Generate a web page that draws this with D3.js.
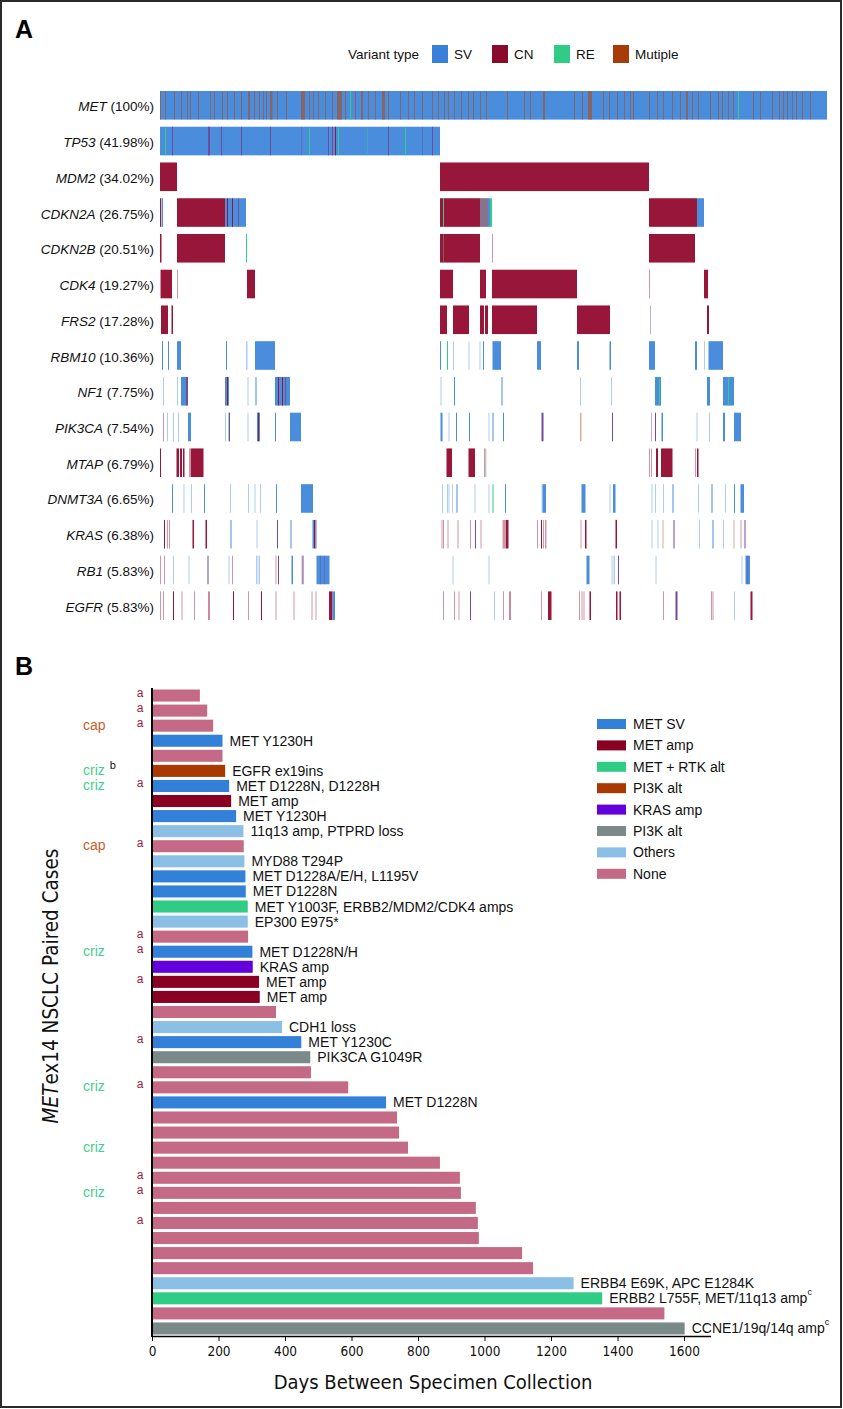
<!DOCTYPE html>
<html><head><meta charset="utf-8">
<script src="https://cdn.jsdelivr.net/npm/d3@7/dist/d3.min.js"></script>
<style>
body{margin:0;background:#fff;}
svg{display:block;}
</style></head>
<body>
<svg id="fig" width="843" height="1409"></svg>
<script>
// ---------------- Panel A data ----------------
const geneNames = ["MET","TP53","MDM2","CDKN2A","CDKN2B","CDK4","FRS2","RBM10","NF1","PIK3CA","MTAP","DNMT3A","KRAS","RB1","EGFR"];
const genePct   = ["100%","41.98%","34.02%","26.75%","20.51%","19.27%","17.28%","10.36%","7.75%","7.54%","6.79%","6.65%","6.38%","5.83%","5.83%"];
const variantTypes = ["SV","CN","RE","MU"];
const variantLabels = ["SV","CN","RE","Mutiple"];
// cohort is sorted; positions are sample-rank bins (0..667). type: SV, CN, RE, MU (multiple), MX (mixed SV+CN);
// lowercase = sparse/faint occurrence
const cohortBins = 667;
const metMultiple = [0,5,14,21,27,30,38,50,54,62,67,74,81,94,99,103,106,117,126,149,153,158,165,172,185,195,208,215,228,240,248,254,262,272,278,284,288,294,301,308,313,320,326,347,364,370,414,422,443,449,457,464,470,473,489,497,503,512,520,532,538,550,558,562,568,573,593,600,612,619,623,627,632,636,642,650];
const metMultipleWide = [[88,90],[110,112.5],[141,145],[177,182],[201,203],[222,225],[383,385],[428,432],[526,528]];
const metRearr = [190,578];
const segTP53 = [[0,280,"SV"],[5,6,"RE"],[12,13,"MX"],[48,50,"MX"],[61,62,"MX"],[81,82,"MX"],[110,111,"MX"],[141,142,"mx"],[149,150,"RE"],[168,169,"MX"],[172,173,"MX"],[175,176,"CN"],[178,179,"RE"],[207,208,"re"],[228,229,"MX"],[245,246,"RE"],[262,263,"mx"],[272,273,"MX"]];
const segMDM2 = [[0,17,"CN"],[280,489,"CN"]];
const segCDKN2A = [[0,1,"CN"],[1.5,3,"SV"],[17,65,"CN"],[65,86,"SV"],[67,68,"CN"],[72,73,"CN"],[78,79,"cn"],[280,320,"CN"],[283,284,"RE"],[320,328,"re"],[320,328,"sv"],[320,328,"cn"],[328,330,"SV"],[330,332,"RE"],[489,537,"CN"],[537,544,"SV"]];
const segCDKN2B = [[0,1.5,"CN"],[17,65,"CN"],[86,87,"RE"],[280,320,"CN"],[283,284,"re"],[332,333,"cn"],[489,535,"CN"]];
const segCDK4 = [[0,1,"cn"],[1,12,"CN"],[17,18,"cn"],[87,95,"CN"],[280,293,"CN"],[320,326,"CN"],[332,417,"CN"],[489,490,"cn"],[544,548,"CN"]];
const segFRS2 = [[1,8,"CN"],[11.5,13,"CN"],[280,287,"CN"],[293,309,"CN"],[320,324,"CN"],[325,328,"CN"],[332,377,"CN"],[417,450,"CN"],[490,491,"mx"],[547,549,"CN"]];
const segRBM10 = [[2,3,"SV"],[8,9,"SV"],[17,21,"SV"],[66,67,"SV"],[86,87.5,"sv"],[95,115,"SV"],[280,281,"SV"],[287,288,"RE"],[293,294,"sv"],[308.5,309.5,"sv"],[319.5,320.5,"sv"],[323,324,"SV"],[332.5,341,"SV"],[377,381,"SV"],[417,419,"SV"],[449.5,451,"SV"],[489,495,"SV"],[535,537,"SV"],[544,545,"sv"],[548.5,563,"SV"]];
const segNF1 = [[3,4,"sv"],[17,18,"sv"],[21,28,"SV"],[26.5,27.5,"CN"],[65,69,"SV"],[67,68,"CN"],[87.5,88.5,"sv"],[95.5,96.5,"SV"],[115,130,"SV"],[118,119,"CN"],[122,123,"CN"],[125,126,"cn"],[280.5,281.5,"sv"],[294,295,"SV"],[341.5,342.5,"SV"],[420,421,"sv"],[451,452,"sv"],[495,501,"SV"],[499,500,"RE"],[547,550,"SV"],[548,549,"sv"],[563,574,"SV"],[568,569,"RE"]];
const segPIK3CA = [[3,4,"cn"],[7,8,"sv"],[13,14,"sv"],[18,19,"sv"],[28,31,"SV"],[65,66,"sv"],[68.5,70,"SV"],[69,70,"cn"],[87.5,88.5,"sv"],[97,100,"SV"],[98,99,"CN"],[115,116,"SV"],[130,141,"SV"],[280.5,282.5,"SV"],[288.5,289.5,"sv"],[296,297,"SV"],[309,310,"SV"],[328.5,329.5,"sv"],[332.5,333.5,"SV"],[343,344,"SV"],[381.5,383.5,"MX"],[420,421.5,"mu"],[452,453,"MX"],[491,492,"mx"],[495,496,"MX"],[501.5,503,"SV"],[536.5,537.5,"sv"],[549,550,"sv"],[563,565,"SV"],[574,581,"SV"]];
const segMTAP = [[0,1,"CN"],[16.5,19,"CN"],[20,22,"CN"],[23,24.5,"CN"],[29,31,"cn"],[31,43.5,"CN"],[286.5,292,"CN"],[308.5,315,"CN"],[324,325.5,"cn"],[325.5,326.5,"re"],[489,490,"cn"],[491,492,"cn"],[496,498,"CN"],[501,512.5,"CN"],[535,536,"cn"],[537,538.5,"CN"]];
const segDNMT3A = [[12,13,"SV"],[23.5,24.5,"sv"],[31,32,"sv"],[44,45,"SV"],[70,71,"sv"],[88,89,"sv"],[94.5,95.5,"sv"],[100,101,"sv"],[116,117,"SV"],[141,153,"SV"],[282,283,"sv"],[287,288,"sv"],[288.5,289.5,"sv"],[292,293,"sv"],[296.5,297.5,"SV"],[314.5,315.5,"sv"],[328.5,329.5,"sv"],[332.5,333.5,"RE"],[345,346,"SV"],[381.5,382.5,"sv"],[382.5,386,"SV"],[421.5,425.5,"SV"],[449.5,450.5,"sv"],[453,455.5,"SV"],[491.5,492.5,"sv"],[495,496,"sv"],[503,504,"sv"],[512.5,513.5,"SV"],[538,539,"sv"],[551.5,552.5,"SV"],[565,566,"sv"],[574,575,"SV"],[580.5,584,"SV"]];
const segKRAS = [[4,5,"CN"],[7,8,"cn"],[9,9.5,"cn"],[32.5,34,"CN"],[45.5,47,"CN"],[70.5,71.5,"SV"],[96.5,97.5,"sv"],[117,118,"MX"],[130.5,131.5,"SV"],[152.5,154,"SV"],[154,155.5,"CN"],[155.5,156,"SV"],[281.5,282.5,"cn"],[283,284,"cn"],[287.5,288.5,"cn"],[297.5,298.5,"cn"],[310,311,"cn"],[315,316,"MX"],[320.5,321.5,"cn"],[342.5,346,"cn"],[346,348.5,"CN"],[377,378,"cn"],[381,382,"CN"],[383,384,"cn"],[385,386.5,"cn"],[420.5,421.5,"cn"],[425,426.5,"CN"],[455.5,457,"CN"],[491.5,492.5,"sv"],[497.5,498.5,"sv"],[502.5,503.5,"mu"],[513.5,514.5,"MX"],[539,540,"sv"],[552.5,553.5,"SV"],[563,564,"sv"],[573.5,574.5,"mu"],[580.5,581.5,"cn"],[584.5,585.5,"MX"]];
const segRB1 = [[0,1,"cn"],[4,5,"cn"],[13,14,"sv"],[28.5,29.5,"sv"],[47.5,48.5,"MX"],[68.5,69.5,"sv"],[72,73,"cn"],[96,97,"sv"],[97.5,98.5,"sv"],[99,100,"sv"],[115.5,116.5,"cn"],[118,119,"MX"],[131.5,133,"SV"],[141.5,142.5,"mu"],[142.5,143.5,"MX"],[156.5,169.5,"SV"],[160,161,"mx"],[164,165,"mx"],[292.5,293.5,"sv"],[328.5,329.5,"sv"],[426.5,429.5,"SV"],[451.5,452.5,"sv"],[453.5,455,"sv"],[458,459,"MX"],[495.5,496.5,"sv"],[581.5,582.5,"sv"],[585.5,590,"SV"],[587,588,"mx"]];
const segEGFR = [[0,1,"cn"],[3,4,"cn"],[13,14,"CN"],[21.5,22.5,"cn"],[34,35,"cn"],[48.5,49.5,"CN"],[73,74,"CN"],[88,89,"cn"],[101,102,"CN"],[115.5,116.5,"cn"],[133.5,134.5,"cn"],[151.5,152.5,"cn"],[155.5,156.5,"cn"],[169,172.5,"CN"],[172.5,175,"SV"],[283,284,"cn"],[294,295,"cn"],[298.5,299.5,"cn"],[310,311,"MX"],[334,335,"sv"],[343,344,"cn"],[349.5,350.5,"CN"],[381,382,"cn"],[388,391.5,"CN"],[419,420,"cn"],[421.5,422.5,"cn"],[423.5,424.5,"cn"],[429.5,431,"CN"],[456,457.5,"CN"],[459.5,461,"CN"],[503,504,"cn"],[515.5,517.5,"MX"],[551,552,"cn"],[552.5,553.5,"cn"],[574,575,"sv"],[590.5,592.5,"CN"]];

// ---------------- Panel B data ----------------
const caseDays = [144,166,184,212,212,220,232,238,253,275,276,278,281,282,288,288,289,302,303,322,324,373,391,449,476,478,590,704,737,743,770,866,926,929,974,980,983,1113,1146,1268,1354,1541,1602];
const caseClass = ["None","None","None","MET SV","None","PI3K alt","MET SV","MET amp","MET SV","Others","None","Others","MET SV","MET SV","MET + RTK alt","Others","None","MET SV","KRAS amp","MET amp","MET amp","None","Others","MET SV","PI3K alt 2","None","None","MET SV","None","None","None","None","None","None","None","None","None","None","None","Others","MET + RTK alt","None","PI3K alt 2"];
const caseLabel = ["","","","MET Y1230H","","EGFR ex19ins","MET D1228N, D1228H","MET amp","MET Y1230H","11q13 amp, PTPRD loss","","MYD88 T294P","MET D1228A/E/H, L1195V","MET D1228N","MET Y1003F, ERBB2/MDM2/CDK4 amps","EP300 E975*","","MET D1228N/H","KRAS amp","MET amp","MET amp","","CDH1 loss","MET Y1230C","PIK3CA G1049R","","","MET D1228N","","","","","","","","","","","","ERBB4 E69K, APC E1284K","ERBB2 L755F, MET/11q13 amp","","CCNE1/19q/14q amp"];
const caseLabelSup = ["","","","","","","","","","","","","","","","","","","","","","","","","","","","","","","","","","","","","","","","","c","","c"];
const caseNoteA = [1,1,1,0,0,0,1,0,0,0,1,0,0,0,0,0,1,1,0,1,0,0,0,1,0,0,1,0,0,0,0,0,1,1,0,1,0,0,0,0,0,0,0];
const caseDrug = ["","","cap","","","criz","criz","","","","cap","","","","","","","criz","","","","","","","","","criz","","","","criz","","","criz","","","","","","","","",""];
const caseDrugSup = ["","","","","","b","","","","","","","","","","","","","","","","","","","","","","","","","","","","","","","","","","","","",""];
const classNames = ["MET SV","MET amp","MET + RTK alt","PI3K alt","KRAS amp","PI3K alt 2","Others","None"];
const classLabels = ["MET SV","MET amp","MET + RTK alt","PI3K alt","KRAS amp","PI3K alt","Others","None"];
const dayTicks = [0,200,400,600,800,1000,1200,1400,1600];

// ---------------- styles ----------------
const vColor = {SV:"#4a8ddc", CN:"#97163a", RE:"#33cc88", MU:"#b04a18", MX:"#6f4c9c"};
const vLegendColor = {SV:"#3a80d8", CN:"#8a0a2c", RE:"#2ecc85", MU:"#a83c08"};
const classColor = {"MET SV":"#3280d8","MET amp":"#8a0022","MET + RTK alt":"#30cc85","PI3K alt":"#a83a00","KRAS amp":"#6400dc","PI3K alt 2":"#7a8a89","Others":"#8cbfe6","None":"#c56a86"};
const drugColor = {cap:"#c8602a", criz:"#3ecf8a"};
const sans = "'Liberation Sans', Arial, Helvetica, sans-serif";
const narrow = "'Liberation Sans Narrow', 'Arial Narrow', 'DejaVu Sans Condensed', 'Roboto Condensed', sans-serif";

const svg = d3.select("#fig");
svg.append("rect").attr("x",1).attr("y",1).attr("width",840).attr("height",1406)
  .attr("fill","#fff").attr("stroke","#2a2a2a").attr("stroke-width",2);

// ---------------- Panel A ----------------
svg.append("text").attr("x",15).attr("y",38).attr("font-family",sans).attr("font-weight","bold")
  .attr("font-size",25).text("A");

const xA = d3.scaleLinear().domain([0,cohortBins]).range([160,827]);
const yA = d3.scaleBand().domain(geneNames).range([91,620]).paddingInner(0.2).paddingOuter(0);

// legend A
const legA = svg.append("g").attr("font-family",sans).attr("font-size",13.5).attr("fill","#111");
legA.append("text").attr("x",348).attr("y",54).attr("dominant-baseline","central").text("Variant type");
const legX = [432,492,554,613];
variantTypes.forEach((t,i)=>{
  legA.append("rect").attr("x",legX[i]).attr("y",45).attr("width",16).attr("height",18).attr("fill",vLegendColor[t]);
  legA.append("text").attr("x",legX[i]+22).attr("y",54).attr("dominant-baseline","central").text(variantLabels[i]);
});

const metSegs = [[0,cohortBins,"SV"]]
  .concat(metMultiple.map(p=>[p,p+1,"MU"]))
  .concat(metMultipleWide.map(d=>[d[0],d[1],"MU"]))
  .concat(metRearr.map(p=>[p,p+1,"RE"]));
const geneSegments = [metSegs,segTP53,segMDM2,segCDKN2A,segCDKN2B,segCDK4,segFRS2,segRBM10,segNF1,segPIK3CA,segMTAP,segDNMT3A,segKRAS,segRB1,segEGFR];

geneNames.forEach((g,i)=>{
  const row = svg.append("g");
  const bw = yA.bandwidth();
  row.selectAll("rect").data(geneSegments[i]).join("rect")
    .attr("x",d=>xA(d[0]))
    .attr("width",d=>Math.max(1,xA(d[1])-xA(d[0])))
    .attr("y",yA(g)).attr("height",bw)
    .attr("fill",d=>vColor[d[2].toUpperCase()])
    .attr("opacity",d=>{
      if (d[2]===d[2].toLowerCase()) return 0.45;
      if (i===0 && d[2]==="MU") return 0.6;
      return 1;
    });
  const lab = svg.append("text").attr("x",154).attr("y",yA(g)+bw/2+1)
    .attr("text-anchor","end").attr("dominant-baseline","central")
    .attr("font-family",sans).attr("font-size",13.5).attr("fill","#111");
  lab.append("tspan").attr("font-style","italic").text(g);
  lab.append("tspan").text(" (" + genePct[i] + ")");
});

// ---------------- Panel B ----------------
svg.append("text").attr("x",15).attr("y",675).attr("font-family",sans).attr("font-weight","bold")
  .attr("font-size",25).text("B");

const xB = d3.scaleLinear().domain([0,1680]).range([152,710.6]);
const yB = d3.scaleBand().domain(d3.range(caseDays.length)).range([688,1336]).paddingInner(0.2).paddingOuter(0.1);
const bh = yB.bandwidth();

const gB = svg.append("g");
gB.selectAll("rect.bar").data(caseDays).join("rect").attr("class","bar")
  .attr("x",xB(0)).attr("y",(d,i)=>yB(i))
  .attr("width",d=>xB(d)-xB(0)).attr("height",bh)
  .attr("fill",(d,i)=>classColor[caseClass[i]]);

// bar labels
caseDays.forEach((d,i)=>{
  if (!caseLabel[i]) return;
  const t = gB.append("text").attr("x",xB(d)+7).attr("y",yB(i)+bh/2)
    .attr("dominant-baseline","central").attr("font-family",sans).attr("font-size",14).attr("fill","#111")
    .text(caseLabel[i]);
  if (caseLabelSup[i]) t.append("tspan").attr("font-size",9).attr("dy",-6).text(caseLabelSup[i]);
});

// annotations
caseDays.forEach((d,i)=>{
  const cy = yB(i)+bh/2-3;
  if (caseNoteA[i]) gB.append("text").attr("x",140).attr("y",cy).attr("text-anchor","middle")
    .attr("dominant-baseline","central").attr("font-family",sans).attr("font-size",12).attr("fill","#9b1b3e").text("a");
  if (caseDrug[i]) {
    const t = gB.append("text").attr("x",83).attr("y",cy+2).attr("dominant-baseline","central")
      .attr("font-family",sans).attr("font-size",14).attr("fill",drugColor[caseDrug[i]]).text(caseDrug[i]);
    if (caseDrugSup[i]) t.append("tspan").attr("dx",5).attr("dy",-5).attr("font-size",11).attr("fill","#111").text(caseDrugSup[i]);
  }
});

// axes
const xAxis = d3.axisBottom(xB).tickValues(dayTicks).tickSize(5).tickSizeOuter(0).tickFormat(d3.format("d"));
const gx = svg.append("g").attr("transform","translate(0,1336)").call(xAxis);
gx.select(".domain").attr("stroke","#000").attr("stroke-width",1.5);
gx.selectAll(".tick line").attr("stroke","#000");
gx.selectAll(".tick text").attr("font-family",narrow).attr("font-size",13.5).attr("fill","#111").attr("dy","0.9em");

svg.append("line").attr("x1",152).attr("x2",152).attr("y1",688).attr("y2",1337)
  .attr("stroke","#000").attr("stroke-width",2);

svg.append("text").attr("x",433).attr("y",1389).attr("text-anchor","middle")
  .attr("font-family",narrow).attr("font-size",20).attr("fill","#111").text("Days Between Specimen Collection");

const yt = svg.append("text").attr("transform","translate(58,986) rotate(-90)").attr("text-anchor","middle")
  .attr("font-family",narrow).attr("font-size",20.5).attr("fill","#111");
yt.append("tspan").attr("font-style","italic").text("MET");
yt.append("tspan").text("ex14 NSCLC Paired Cases");

// legend B
const legB = svg.append("g").attr("font-family",sans).attr("font-size",14).attr("fill","#111");
classNames.forEach((c,i)=>{
  const cy = 724 + i*21.4;
  legB.append("rect").attr("x",597).attr("y",cy-5).attr("width",29).attr("height",10).attr("fill",classColor[c]);
  legB.append("text").attr("x",633).attr("y",cy).attr("dominant-baseline","central").text(classLabels[i]);
});
</script>
</body></html>
